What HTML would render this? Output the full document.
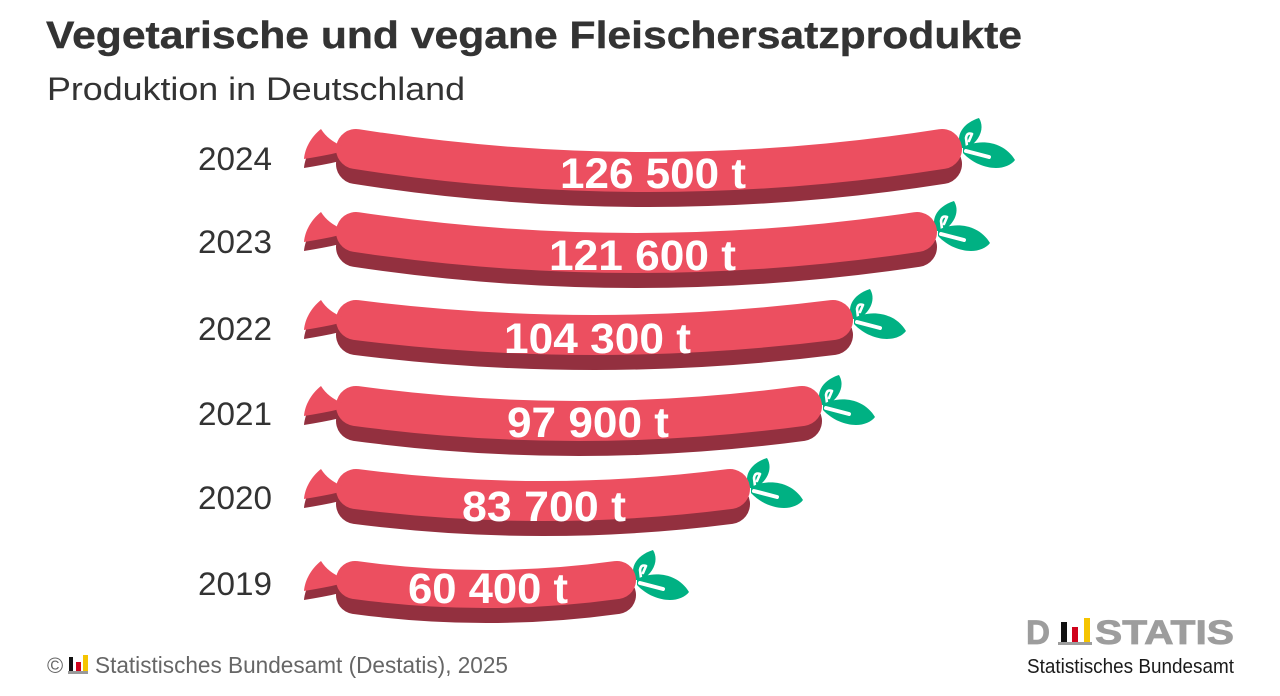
<!DOCTYPE html>
<html>
<head>
<meta charset="utf-8">
<style>
html,body{margin:0;padding:0;background:#fff;}
svg{display:block;}
text{font-family:"Liberation Sans",sans-serif;}
</style>
</head>
<body>
<svg width="1280" height="696" viewBox="0 0 1280 696" xmlns="http://www.w3.org/2000/svg">
<rect width="1280" height="696" fill="#fff"/>
<defs>
  <g id="tieD"><path d="M321,0 C311,8 305,19 304,30 C316,28 328,26 340,23 L342,17 C333,13 326,8 321,0 Z" fill="#93303f"/></g>
  <g id="tieR"><path d="M321,0 C311,8 305,19 304,30 C316,28 328,26 340,23 L342,17 C333,13 326,8 321,0 Z" fill="#ec4f60"/></g>
  <g id="leaf">
    <path d="M0,19 C-7,10 -2,-5 17,-11 C23,-1 18,11 6,19 Z" fill="#00b183"/>
    <path d="M5,17 L4,9 Q5,3 10,5 L7,12" fill="none" stroke="#fff" stroke-width="2.6" stroke-linecap="round" stroke-linejoin="round"/>
    <path d="M1,18 C16,10 41,11 53,31 C44,43 18,42 1,24 Z" fill="#00b183"/>
    <path d="M4,22 L27,28" stroke="#fff" stroke-width="4" stroke-linecap="round"/>
  </g>
</defs>

<!-- Title -->
<text x="46" y="48" font-size="38" font-weight="bold" fill="#333" stroke="#333" stroke-width="0.4" textLength="976" lengthAdjust="spacingAndGlyphs">Vegetarische und vegane Fleischersatzprodukte</text>
<text x="47" y="100" font-size="32" fill="#333" textLength="418" lengthAdjust="spacingAndGlyphs">Produktion in Deutschland</text>

<!-- Year labels -->
<g font-size="32" fill="#333">
<text x="198" y="170" textLength="74" lengthAdjust="spacingAndGlyphs">2024</text>
<text x="198" y="253" textLength="74" lengthAdjust="spacingAndGlyphs">2023</text>
<text x="198" y="340" textLength="74" lengthAdjust="spacingAndGlyphs">2022</text>
<text x="198" y="425" textLength="74" lengthAdjust="spacingAndGlyphs">2021</text>
<text x="198" y="509" textLength="74" lengthAdjust="spacingAndGlyphs">2020</text>
<text x="198" y="595" textLength="74" lengthAdjust="spacingAndGlyphs">2019</text>
</g>

<!-- 2024 -->
<use href="#leaf" transform="translate(962,129)"/>
<use href="#tieD" transform="translate(0,138)"/>
<path d="M356,164 Q649,210 942,164" fill="none" stroke="#93303f" stroke-width="40" stroke-linecap="round"/>
<path d="M356,149 Q649,195 942,149" fill="none" stroke="#ec4f60" stroke-width="40" stroke-linecap="round"/>
<use href="#tieR" transform="translate(0,129)"/>
<text x="560" y="188" font-size="43" font-weight="bold" fill="#fff" textLength="186" lengthAdjust="spacingAndGlyphs">126 500 t</text>

<!-- 2023 -->
<use href="#leaf" transform="translate(937,212)"/>
<use href="#tieD" transform="translate(0,221)"/>
<path d="M356,247 Q636.5,289 917,247" fill="none" stroke="#93303f" stroke-width="40" stroke-linecap="round"/>
<path d="M356,232 Q636.5,274 917,232" fill="none" stroke="#ec4f60" stroke-width="40" stroke-linecap="round"/>
<use href="#tieR" transform="translate(0,212)"/>
<text x="549" y="270" font-size="43" font-weight="bold" fill="#fff" textLength="187" lengthAdjust="spacingAndGlyphs">121 600 t</text>

<!-- 2022 -->
<use href="#leaf" transform="translate(853,300)"/>
<use href="#tieD" transform="translate(0,309)"/>
<path d="M356,335 Q594.5,365 833,335" fill="none" stroke="#93303f" stroke-width="40" stroke-linecap="round"/>
<path d="M356,320 Q594.5,350 833,320" fill="none" stroke="#ec4f60" stroke-width="40" stroke-linecap="round"/>
<use href="#tieR" transform="translate(0,300)"/>
<text x="504" y="353" font-size="43" font-weight="bold" fill="#fff" textLength="187" lengthAdjust="spacingAndGlyphs">104 300 t</text>

<!-- 2021 -->
<use href="#leaf" transform="translate(822,386)"/>
<use href="#tieD" transform="translate(0,395)"/>
<path d="M356,421 Q579,451 802,421" fill="none" stroke="#93303f" stroke-width="40" stroke-linecap="round"/>
<path d="M356,406 Q579,436 802,406" fill="none" stroke="#ec4f60" stroke-width="40" stroke-linecap="round"/>
<use href="#tieR" transform="translate(0,386)"/>
<text x="507" y="437" font-size="43" font-weight="bold" fill="#fff" textLength="162" lengthAdjust="spacingAndGlyphs">97 900 t</text>

<!-- 2020 -->
<use href="#leaf" transform="translate(750,469)"/>
<use href="#tieD" transform="translate(0,478)"/>
<path d="M356,504 Q543,528 730,504" fill="none" stroke="#93303f" stroke-width="40" stroke-linecap="round"/>
<path d="M356,489 Q543,513 730,489" fill="none" stroke="#ec4f60" stroke-width="40" stroke-linecap="round"/>
<use href="#tieR" transform="translate(0,469)"/>
<text x="462" y="521" font-size="43" font-weight="bold" fill="#fff" textLength="164" lengthAdjust="spacingAndGlyphs">83 700 t</text>

<!-- 2019 -->
<use href="#leaf" transform="translate(636,561)"/>
<use href="#tieD" transform="translate(0,570)"/>
<path d="M355,595 Q486.5,613 617,595" fill="none" stroke="#93303f" stroke-width="38" stroke-linecap="round"/>
<path d="M355,580 Q486.5,598 617,580" fill="none" stroke="#ec4f60" stroke-width="38" stroke-linecap="round"/>
<use href="#tieR" transform="translate(0,561)"/>
<text x="408" y="603" font-size="43" font-weight="bold" fill="#fff" textLength="160" lengthAdjust="spacingAndGlyphs">60 400 t</text>

<!-- Footer -->
<text x="47" y="673" font-size="22" fill="#666">©</text>
<rect x="69" y="657" width="4" height="14" fill="#111"/>
<rect x="76" y="662" width="5" height="9" fill="#d0021b"/>
<rect x="83" y="655" width="5" height="16" fill="#f5c400"/>
<rect x="68" y="671" width="20" height="3" fill="#999"/>
<text x="95" y="673" font-size="23" fill="#666" textLength="413" lengthAdjust="spacingAndGlyphs">Statistisches Bundesamt (Destatis), 2025</text>

<!-- Destatis logo -->
<text x="1026" y="644" font-size="34" font-weight="bold" fill="#9d9d9d" stroke="#9d9d9d" stroke-width="0.8" textLength="24" lengthAdjust="spacingAndGlyphs">D</text>
<rect x="1061" y="622" width="6" height="20" fill="#111"/>
<rect x="1072" y="627" width="6" height="15" fill="#d0021b"/>
<rect x="1084" y="618" width="6" height="24" fill="#f5c400"/>
<rect x="1058" y="642" width="34" height="3" fill="#9d9d9d"/>
<text x="1095" y="644" font-size="34" font-weight="bold" fill="#9d9d9d" stroke="#9d9d9d" stroke-width="0.8" textLength="139" lengthAdjust="spacingAndGlyphs">STATIS</text>
<text x="1027" y="673" font-size="20" fill="#1a1a1a" textLength="207" lengthAdjust="spacingAndGlyphs">Statistisches Bundesamt</text>
</svg>
</body>
</html>
